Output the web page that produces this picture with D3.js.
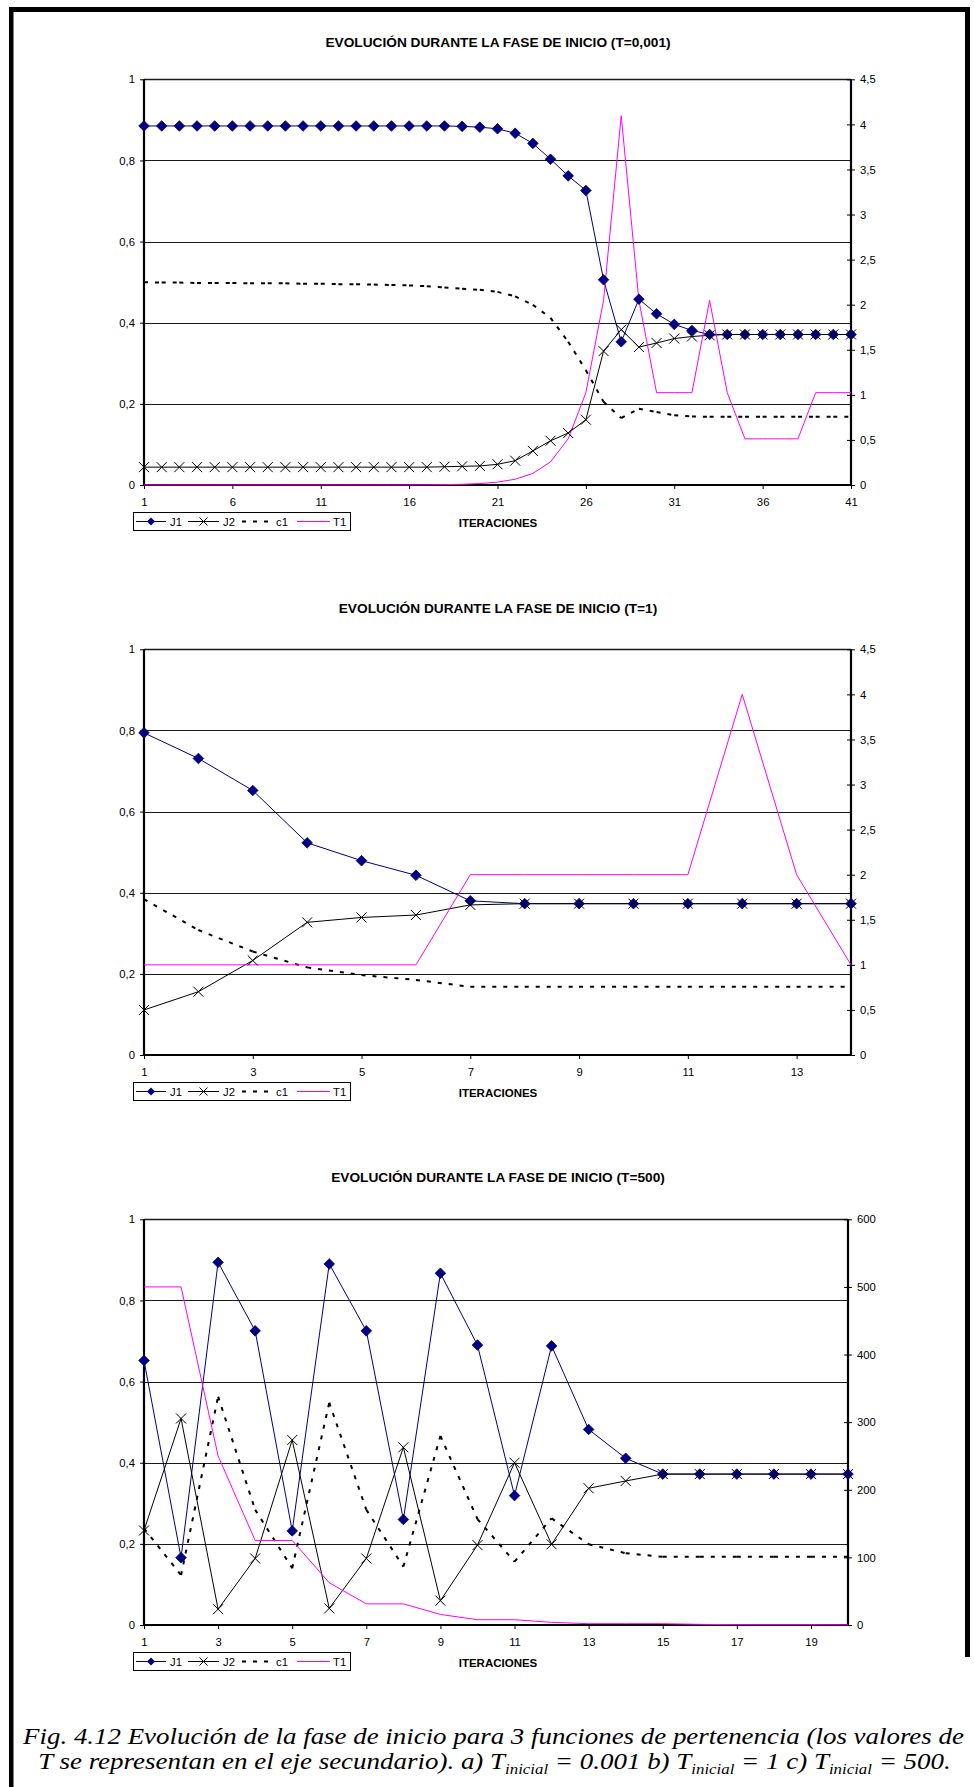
<!DOCTYPE html>
<html>
<head>
<meta charset="utf-8">
<script src="https://cdn.jsdelivr.net/npm/d3@7"></script>
<style>
  html, body { margin: 0; padding: 0; background: #fff; }
  svg { display: block; }
</style>
</head>
<body>
<script>
// ---------- data: chart a) T inicial = 0,001 ----------
const iterA = [1,2,3,4,5,6,7,8,9,10,11,12,13,14,15,16,17,18,19,20,21,22,23,24,25,26,27,28,29,30,31,32,33,34,35,36,37,38,39,40,41];
const j1A = [0.885,0.885,0.885,0.885,0.885,0.885,0.885,0.885,0.885,0.885,0.885,0.885,0.885,0.885,0.885,0.885,0.885,0.885,0.884,0.882,0.878,0.867,0.842,0.803,0.762,0.726,0.506,0.353,0.458,0.422,0.396,0.381,0.371,0.371,0.371,0.371,0.371,0.371,0.371,0.371,0.371];
const j2A = [0.044,0.044,0.044,0.044,0.044,0.044,0.044,0.044,0.044,0.044,0.044,0.044,0.044,0.044,0.044,0.044,0.044,0.045,0.046,0.047,0.051,0.060,0.084,0.109,0.128,0.161,0.330,0.383,0.340,0.350,0.361,0.366,0.369,0.371,0.371,0.371,0.371,0.371,0.371,0.371,0.371];
const c1A = [0.500,0.499,0.499,0.498,0.498,0.498,0.497,0.497,0.497,0.496,0.496,0.495,0.495,0.494,0.493,0.492,0.490,0.487,0.484,0.481,0.476,0.465,0.444,0.412,0.353,0.283,0.205,0.165,0.188,0.180,0.172,0.169,0.168,0.168,0.168,0.168,0.168,0.168,0.168,0.168,0.168];
const t1A = [0.001,0.001,0.001,0.001,0.001,0.001,0.001,0.001,0.001,0.001,0.001,0.001,0.001,0.001,0.001,0.001,0.002,0.004,0.008,0.016,0.032,0.064,0.128,0.256,0.512,1.024,2.048,4.096,2.048,1.024,1.024,1.024,2.048,1.024,0.512,0.512,0.512,0.512,1.024,1.024,1.024];
const xTicksA = [1,6,11,16,21,26,31,36,41];

// ---------- data: chart b) T inicial = 1 ----------
const iterB = [1,2,3,4,5,6,7,8,9,10,11,12,13,14];
const j1B = [0.794,0.731,0.652,0.523,0.479,0.443,0.380,0.373,0.373,0.373,0.373,0.373,0.373,0.373];
const j2B = [0.111,0.156,0.233,0.327,0.339,0.345,0.370,0.373,0.373,0.373,0.373,0.373,0.373,0.373];
const c1B = [0.384,0.308,0.255,0.216,0.197,0.185,0.168,0.168,0.168,0.168,0.168,0.168,0.168,0.168];
const t1B = [1,1,1,1,1,1,2,2,2,2,2,4,2,1];
const xTicksB = [1,3,5,7,9,11,13];

// ---------- data: chart c) T inicial = 500 ----------
const iterC = [1,2,3,4,5,6,7,8,9,10,11,12,13,14,15,16,17,18,19,20];
const j1C = [0.652,0.166,0.894,0.725,0.232,0.890,0.725,0.260,0.867,0.690,0.319,0.688,0.482,0.411,0.372,0.372,0.372,0.372,0.372,0.372];
const j2C = [0.233,0.509,0.039,0.164,0.456,0.041,0.164,0.438,0.060,0.197,0.400,0.199,0.337,0.355,0.372,0.372,0.372,0.372,0.372,0.372];
const c1C = [0.238,0.123,0.563,0.284,0.140,0.548,0.284,0.144,0.466,0.261,0.156,0.263,0.199,0.177,0.168,0.168,0.168,0.168,0.168,0.168];
const t1C = [500,500,250,125,125,62.5,31.25,31.25,15.625,7.8125,7.8125,3.906,1.953,1.953,1.953,0.977,0.488,0.488,0.488,0.244];
const xTicksC = [1,3,5,7,9,11,13,15,17,19];

// ---------- shared tick values ----------
const yTicks = [0, 0.2, 0.4, 0.6, 0.8, 1];
const y2TicksSmall = [0, 0.5, 1, 1.5, 2, 2.5, 3, 3.5, 4, 4.5];
const y2TicksLarge = [0, 100, 200, 300, 400, 500, 600];
const seriesNames = ["J1", "J2", "c1", "T1"];

const W = 974, H = 1787;
const SANS = "'Liberation Sans', Arial, sans-serif";
const SERIF = "'Liberation Serif', 'Times New Roman', serif";
const NAVY = "#000080", MAGENTA = "#ff00ff";
const fmt = d => String(d).replace(".", ",");

const svg = d3.select("body").append("svg")
  .attr("width", W).attr("height", H)
  .attr("viewBox", `0 0 ${W} ${H}`);
svg.append("rect").attr("width", W).attr("height", H).attr("fill", "#fff");

// page frame
svg.append("rect").attr("x", 9).attr("y", 7).attr("width", 4.5).attr("height", H - 7).attr("fill", "#000");
svg.append("rect").attr("x", 9).attr("y", 7).attr("width", 961).attr("height", 5).attr("fill", "#000");
svg.append("rect").attr("x", 965).attr("y", 7).attr("width", 5).attr("height", 1650).attr("fill", "#000");

const diamondPath = r => `M0,${-r}L${r},0L0,${r}L${-r},0Z`;
const crossPath = r => `M${-r},${-r}L${r},${r}M${-r},${r}L${r},${-r}`;

function drawChart(o) {
  const g = svg.append("g");
  const x = d3.scaleLinear().domain([o.iter[0], o.iter[o.iter.length - 1]]).range([o.left, o.right]);
  const y = d3.scaleLinear().domain([0, 1]).range([o.bottom, o.top]);
  const y2 = d3.scaleLinear().domain([0, o.y2Ticks[o.y2Ticks.length - 1]]).range([o.bottom, o.top]);
  const crisp = v => Math.round(v) + 0.5;

  // title
  g.append("text")
    .attr("x", 498).attr("y", o.titleY)
    .attr("text-anchor", "middle")
    .attr("font-family", SANS).attr("font-weight", "bold").attr("font-size", 13.7)
    .text(o.title);

  // horizontal gridlines
  g.append("g").selectAll("line").data(yTicks.filter(v => v > 0)).join("line")
    .attr("x1", o.left).attr("x2", o.right)
    .attr("y1", d => crisp(y(d))).attr("y2", d => crisp(y(d)))
    .attr("stroke", "#1a1a1a").attr("stroke-width", d => d === 1 ? 1.5 : 1);

  // left axis
  const ax = g.append("g").attr("transform", `translate(${o.left},0)`)
    .call(d3.axisLeft(y).tickValues(yTicks).tickFormat(fmt).tickSize(4).tickPadding(5));
  // bottom axis
  const bx = g.append("g").attr("transform", `translate(0,${o.bottom})`)
    .call(d3.axisBottom(x).tickValues(o.xTicks).tickFormat(d => d).tickSize(4).tickPadding(9));
  // right (secondary) axis
  const rx = g.append("g").attr("transform", `translate(${o.right},0)`)
    .call(d3.axisRight(y2).tickValues(o.y2Ticks).tickFormat(fmt).tickSize(4).tickPadding(5));
  rx.selectAll(".tick line").attr("x1", -4);
  [ax, bx, rx].forEach(a => {
    a.select(".domain").remove();
    a.selectAll("text").attr("font-family", SANS).attr("font-size", 11.3).attr("fill", "#000");
    a.selectAll(".tick line").attr("stroke", "#000");
  });

  // axis lines
  g.append("line").attr("x1", o.left).attr("x2", o.left).attr("y1", o.top).attr("y2", o.bottom + 1)
    .attr("stroke", "#000").attr("stroke-width", 2.2);
  g.append("line").attr("x1", o.right).attr("x2", o.right).attr("y1", o.top).attr("y2", o.bottom + 1)
    .attr("stroke", "#000").attr("stroke-width", 2.2);
  g.append("line").attr("x1", o.left - 1).attr("x2", o.right + 1).attr("y1", o.bottom).attr("y2", o.bottom)
    .attr("stroke", "#000").attr("stroke-width", 2.2);

  const pts = vals => o.iter.map((it, i) => [x(it), y(vals[i])]);
  const line = d3.line();

  // J1 and J2 lines
  g.append("path").attr("d", line(pts(o.j1))).attr("fill", "none").attr("stroke", NAVY).attr("stroke-width", 1);
  g.append("path").attr("d", line(pts(o.j2))).attr("fill", "none").attr("stroke", "#000").attr("stroke-width", 1);

  // c1: dashed, pattern restarting on every segment
  const cp = pts(o.c1);
  g.append("g").selectAll("line").data(d3.pairs(cp)).join("line")
    .attr("x1", d => d[0][0]).attr("y1", d => d[0][1])
    .attr("x2", d => d[1][0]).attr("y2", d => d[1][1])
    .attr("stroke", "#000").attr("stroke-width", 2).attr("stroke-dasharray", "4,7");

  // T1 on the secondary axis
  g.append("path").attr("d", line(o.iter.map((it, i) => [x(it), y2(o.t1[i])])))
    .attr("fill", "none").attr("stroke", MAGENTA).attr("stroke-width", 1);

  // markers
  g.append("g").selectAll("path").data(pts(o.j1)).join("path")
    .attr("transform", d => `translate(${d[0]},${d[1]})`)
    .attr("d", diamondPath(5.3)).attr("fill", NAVY).attr("stroke", NAVY).attr("stroke-width", 0.8);
  g.append("g").selectAll("path").data(pts(o.j2)).join("path")
    .attr("transform", d => `translate(${d[0]},${d[1]})`)
    .attr("d", crossPath(5)).attr("fill", "none").attr("stroke", "#000").attr("stroke-width", 1);

  // axis title
  g.append("text").attr("x", 498).attr("y", o.bottom + 42)
    .attr("text-anchor", "middle").attr("font-family", SANS).attr("font-weight", "bold").attr("font-size", 11.5)
    .text("ITERACIONES");

  // legend
  const ly = o.bottom + 27, lc = ly + 9.5;
  const lg = g.append("g");
  lg.append("rect").attr("x", 133.5).attr("y", ly + 0.5).attr("width", 217).attr("height", 18)
    .attr("fill", "#fff").attr("stroke", "#000").attr("stroke-width", 1);
  lg.append("line").attr("x1", 136).attr("x2", 166).attr("y1", lc).attr("y2", lc).attr("stroke", NAVY);
  lg.append("path").attr("transform", `translate(151,${lc})`).attr("d", diamondPath(4)).attr("fill", NAVY);
  lg.append("line").attr("x1", 188).attr("x2", 219).attr("y1", lc).attr("y2", lc).attr("stroke", "#000");
  lg.append("path").attr("transform", `translate(203.5,${lc})`).attr("d", crossPath(4)).attr("stroke", "#000").attr("fill", "none");
  lg.append("line").attr("x1", 242).attr("x2", 270).attr("y1", lc).attr("y2", lc)
    .attr("stroke", "#000").attr("stroke-width", 2).attr("stroke-dasharray", "4,7");
  lg.append("line").attr("x1", 297).attr("x2", 330).attr("y1", lc).attr("y2", lc).attr("stroke", MAGENTA);
  const lx = [170, 223, 276, 333];
  lg.selectAll("text.name").data(seriesNames).join("text")
    .attr("class", "name")
    .attr("x", (d, i) => lx[i]).attr("y", lc + 4)
    .attr("font-family", SANS).attr("font-size", 11.3).text(d => d);
}

drawChart({
  title: "EVOLUCIÓN DURANTE LA FASE DE INICIO (T=0,001)", titleY: 46.5,
  iter: iterA, j1: j1A, j2: j2A, c1: c1A, t1: t1A,
  xTicks: xTicksA, y2Ticks: y2TicksSmall,
  left: 144, right: 851, top: 79.3, bottom: 485
});
drawChart({
  title: "EVOLUCIÓN DURANTE LA FASE DE INICIO (T=1)", titleY: 613,
  iter: iterB, j1: j1B, j2: j2B, c1: c1B, t1: t1B,
  xTicks: xTicksB, y2Ticks: y2TicksSmall,
  left: 144, right: 851, top: 649.3, bottom: 1055
});
drawChart({
  title: "EVOLUCIÓN DURANTE LA FASE DE INICIO (T=500)", titleY: 1181.5,
  iter: iterC, j1: j1C, j2: j2C, c1: c1C, t1: t1C,
  xTicks: xTicksC, y2Ticks: y2TicksLarge,
  left: 144, right: 848, top: 1219.3, bottom: 1625
});

// figure caption: each line is fitted horizontally to its set width
function captionLine(cx, baseline, width) {
  const holder = svg.append("g").attr("transform", `translate(${cx},${baseline})`);
  const t = holder.append("text")
    .attr("x", 0).attr("y", 0).attr("text-anchor", "middle")
    .attr("font-family", SERIF).attr("font-style", "italic").attr("font-size", 24).attr("fill", "#000");
  return { holder, t, width };
}
function fitLine(l) {
  const w = l.t.node().getComputedTextLength();
  if (w > 0) l.holder.attr("transform", l.holder.attr("transform") + ` scale(${l.width / w},1)`);
}
const cap1 = captionLine(493.5, 1744, 941);
cap1.t.text("Fig. 4.12 Evolución de la fase de inicio para 3 funciones de pertenencia (los valores de");
const cap2 = captionLine(494.5, 1769, 913);
const parts = [
  ["T se representan en el eje secundario). a) T", false],
  ["inicial", true],
  [" = 0.001 b) T", false],
  ["inicial", true],
  [" = 1 c) T", false],
  ["inicial", true],
  [" = 500.", false]
];
parts.forEach(([txt, sub], i) => {
  const prevSub = i > 0 && parts[i - 1][1];
  cap2.t.append("tspan")
    .attr("font-size", sub ? 15 : null)
    .attr("dy", sub ? 5 : (prevSub ? -5 : 0))
    .text(txt);
});
fitLine(cap1);
fitLine(cap2);
</script>
</body>
</html>
